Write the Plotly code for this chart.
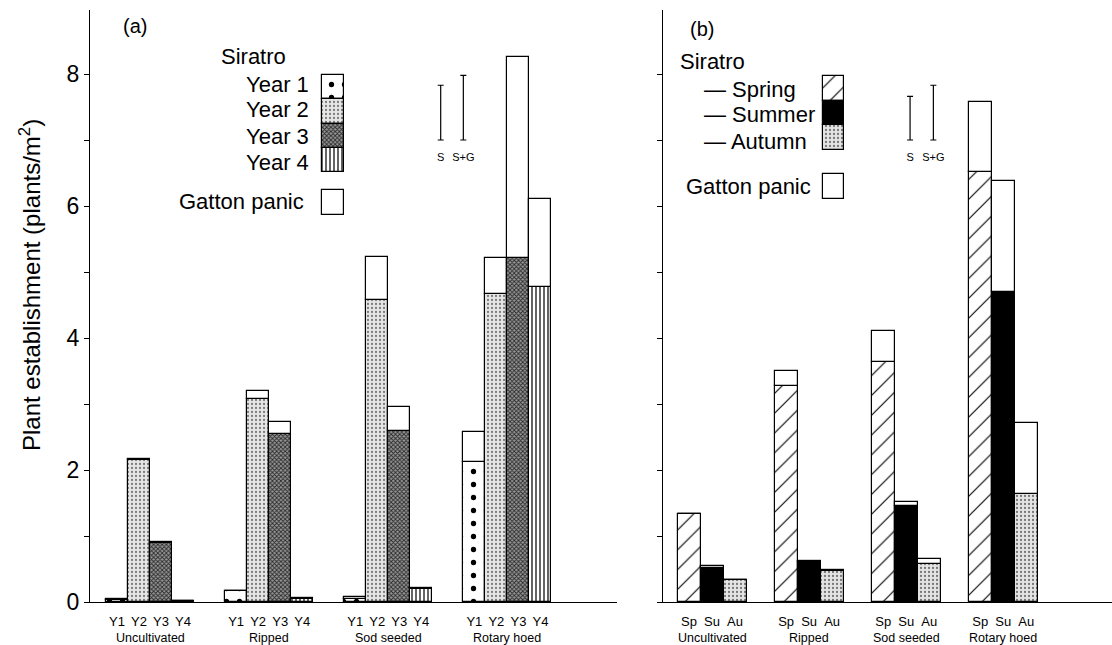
import plotly.graph_objects as go

# ---------------- data ----------------
groups = ["Uncultivated", "Ripped", "Sod seeded", "Rotary hoed"]
years = ["Y1", "Y2", "Y3", "Y4"]
year_names = ["Year 1", "Year 2", "Year 3", "Year 4"]
seasons = ["Sp", "Su", "Au"]
season_names = ["Spring", "Summer", "Autumn"]

# panel (a): siratro by year of establishment, per group
siratro_y1 = [0.03, 0.16, 0.04, 2.12]
siratro_y2 = [2.15, 3.07, 4.58, 4.67]
siratro_y3 = [0.90, 2.55, 2.59, 5.21]
siratro_y4 = [0.01, 0.04, 0.20, 4.77]
gatton_y1 = [0.02, 0.00, 0.03, 0.46]
gatton_y2 = [0.01, 0.13, 0.65, 0.54]
gatton_y3 = [0.01, 0.18, 0.36, 3.05]
gatton_y4 = [0.00, 0.02, 0.01, 1.33]

# panel (b): siratro by season of sowing, per group
siratro_sp = [1.33, 3.28, 3.64, 6.52]
siratro_su = [0.52, 0.60, 1.46, 4.70]
siratro_au = [0.34, 0.47, 0.58, 1.64]
gatton_sp = [0.00, 0.22, 0.46, 1.06]
gatton_su = [0.02, 0.02, 0.06, 1.68]
gatton_au = [0.00, 0.02, 0.07, 1.07]

# LSD bars (from base value)
lsd_labels = ["S", "S+G"]
lsd_base = 7.0
lsd_a = [0.83, 0.98]
lsd_b = [0.66, 0.83]

y_labels = [0, 2, 4, 6, 8]

# ---------------- styles ----------------
W, H = 1112, 645
FONT = "Liberation Sans, Arial, Helvetica, sans-serif"
LINE = dict(color="black", width=1.2)

pat_year = [
    dict(shape=".", size=13, solidity=0.13, fgcolor="black", bgcolor="white", fillmode="replace"),
    dict(shape=".", size=4, solidity=0.25, fgcolor="#7c7c7c", bgcolor="#e6e6e6", fillmode="replace"),
    dict(shape="x", size=3, solidity=0.5, fgcolor="#2a2a2a", bgcolor="#989898", fillmode="replace"),
    dict(shape="|", size=4, solidity=0.35, fgcolor="#222222", bgcolor="white", fillmode="replace"),
]
pat_season = [
    dict(shape="/", size=14, solidity=0.08, fgcolor="black", bgcolor="white", fillmode="replace"),
    dict(shape="", fgcolor="black", bgcolor="black"),
    dict(shape=".", size=4, solidity=0.25, fgcolor="#777777", bgcolor="#e4e4e4", fillmode="replace"),
]
season_colors = ["white", "black", "#e0e0e0"]

wa = 22 / 119.0
wb = 23 / 97.0

sir_a = [siratro_y1, siratro_y2, siratro_y3, siratro_y4]
gat_a = [gatton_y1, gatton_y2, gatton_y3, gatton_y4]
sir_b = [siratro_sp, siratro_su, siratro_au]
gat_b = [gatton_sp, gatton_su, gatton_au]

fig = go.Figure()

# ---------------- panel (a) bars ----------------
tick_a_vals, tick_a_text = [], []
for j in range(4):
    xs = [g + (j - 1.5) * wa for g in range(len(groups))]
    tick_a_vals += xs
    tick_a_text += [years[j]] * len(groups)
    fig.add_bar(x=xs, y=sir_a[j], width=wa, xaxis="x", yaxis="y",
                marker=dict(color="white", pattern=pat_year[j], line=LINE),
                showlegend=False, name=year_names[j])
    fig.add_bar(x=xs, y=gat_a[j], base=sir_a[j], width=wa, xaxis="x", yaxis="y",
                marker=dict(color="white", line=LINE), showlegend=False, name="Gatton panic")

# ---------------- panel (b) bars ----------------
tick_b_vals, tick_b_text = [], []
for j in range(3):
    xs = [g + (j - 1) * wb for g in range(len(groups))]
    tick_b_vals += xs
    tick_b_text += [seasons[j]] * len(groups)
    fig.add_bar(x=xs, y=sir_b[j], width=wb, xaxis="x2", yaxis="y2",
                marker=dict(color=season_colors[j], pattern=pat_season[j], line=LINE),
                showlegend=False, name=season_names[j])
    fig.add_bar(x=xs, y=gat_b[j], base=sir_b[j], width=wb, xaxis="x2", yaxis="y2",
                marker=dict(color="white", line=LINE), showlegend=False, name="Gatton panic")

# ---------------- LSD bars ----------------
lsd_xa = [2.44, 2.63]
lsd_xb = [2.04, 2.28]
for xs, vals, xa, ya in [(lsd_xa, lsd_a, "x", "y"), (lsd_xb, lsd_b, "x2", "y2")]:
    fig.add_scatter(x=xs, y=[lsd_base + v / 2 for v in vals], mode="markers",
                    marker=dict(size=1, color="rgba(0,0,0,0)"),
                    error_y=dict(type="data", array=[v / 2 for v in vals], color="black",
                                 thickness=1.2, width=3),
                    xaxis=xa, yaxis=ya, showlegend=False, hoverinfo="skip")
    fig.add_scatter(x=xs, y=[lsd_base - 0.27, lsd_base - 0.27], mode="text", text=lsd_labels,
                    textposition="middle center",
                    textfont=dict(family=FONT, size=11, color="black"),
                    xaxis=xa, yaxis=ya, showlegend=False, hoverinfo="skip")

# ---------------- legend swatches (pixel axes) ----------------
sw_a_tops = [75, 99, 124, 148]
sw_a_h = [24, 25, 24, 24]
for j in range(4):
    fig.add_bar(x=[333], y=[sw_a_h[j]], base=[sw_a_tops[j]], width=22, xaxis="x3", yaxis="y3",
                marker=dict(color="white", pattern=pat_year[j], line=LINE), showlegend=False,
                hoverinfo="skip")
fig.add_bar(x=[333], y=[25], base=[190], width=22, xaxis="x3", yaxis="y3",
            marker=dict(color="white", line=LINE), showlegend=False, hoverinfo="skip")

sw_b_tops = [76, 101, 125]
sw_b_h = [25, 24, 25]
for j in range(3):
    fig.add_bar(x=[833.5], y=[sw_b_h[j]], base=[sw_b_tops[j]], width=21, xaxis="x3", yaxis="y3",
                marker=dict(color=season_colors[j], pattern=pat_season[j], line=LINE),
                showlegend=False, hoverinfo="skip")
fig.add_bar(x=[833.5], y=[25], base=[174], width=21, xaxis="x3", yaxis="y3",
            marker=dict(color="white", line=LINE), showlegend=False, hoverinfo="skip")

# ---------------- annotations ----------------
ann = []
def px_ann(text, x, y, size=22, xanchor="center", **kw):
    ann.append(dict(text=text, x=x / W, y=1 - y / H, xref="paper", yref="paper",
                    xanchor=xanchor, yanchor="middle", showarrow=False,
                    font=dict(family=FONT, size=size, color="black"), **kw))

px_ann("(a)", 135, 26, size=20)
px_ann("Siratro", 253, 57)
for j, yy in enumerate([84, 110, 136, 162]):
    px_ann(year_names[j], 311, yy, xanchor="right")
px_ann("Gatton panic", 306, 201, xanchor="right")

px_ann("(b)", 702, 29, size=20)
px_ann("Siratro", 678, 62, xanchor="left")
for j, yy in enumerate([89, 115, 141]):
    px_ann("— " + season_names[j], 702, yy, xanchor="left")
px_ann("Gatton panic", 684, 186, xanchor="left")

px_ann("Plant establishment (plants/m<sup>2</sup>)", 30, 285, size=24, textangle=-90)

for g, name in enumerate(groups):
    for xr in ("x", "x2"):
        ann.append(dict(text=name, x=g, y=1 - 638 / H, xref=xr, yref="paper", showarrow=False,
                        xanchor="center", yanchor="middle",
                        font=dict(family=FONT, size=12.5, color="black")))

ydom = [43 / H, 1 - 10 / H]
yrange = [0, 8.97]

axis_common = dict(showgrid=False, zeroline=False, showline=True, linecolor="black",
                   linewidth=1.4, automargin=False)
minor_ticks = dict(dtick=1, ticks="outside", ticklen=5, tickwidth=1.2, tickcolor="black", showgrid=False)

fig.update_layout(
    template="none",
    width=W, height=H, margin=dict(l=0, r=0, t=0, b=0, pad=0, autoexpand=False),
    paper_bgcolor="white", plot_bgcolor="rgba(0,0,0,0)",
    barmode="overlay", bargap=0, showlegend=False,
    font=dict(family=FONT, color="black"),
    xaxis=dict(domain=[90 / W, 617 / W], range=[-0.504, 3.92], tickmode="array",
               tickvals=tick_a_vals, ticktext=tick_a_text, ticks="", ticklabelstandoff=7,
               tickfont=dict(family=FONT, size=13), anchor="y", **axis_common),
    yaxis=dict(domain=ydom, range=yrange, tickmode="array", tickvals=y_labels,
               ticks="outside", ticklen=5, tickwidth=1.2, tickcolor="black",
               minor=minor_ticks,
               tickfont=dict(family=FONT, size=23), anchor="x", **axis_common),
    xaxis2=dict(domain=[663 / W, 1.0], range=[-0.505, 4.12], tickmode="array",
                tickvals=tick_b_vals, ticktext=tick_b_text, ticks="", ticklabelstandoff=7,
                tickfont=dict(family=FONT, size=13), anchor="y2", **axis_common),
    yaxis2=dict(domain=ydom, range=yrange, tickmode="array", tickvals=y_labels,
                ticks="outside", ticklen=5, tickwidth=1.2, tickcolor="black",
                minor=minor_ticks,
                showticklabels=False, anchor="x2", **axis_common),
    xaxis3=dict(domain=[0, 1], range=[0, W], visible=False, anchor="y3", automargin=False),
    yaxis3=dict(domain=[0, 1], range=[H, 0], visible=False, anchor="x3", automargin=False),
    annotations=ann,
)

fig.write_html("out.html")
